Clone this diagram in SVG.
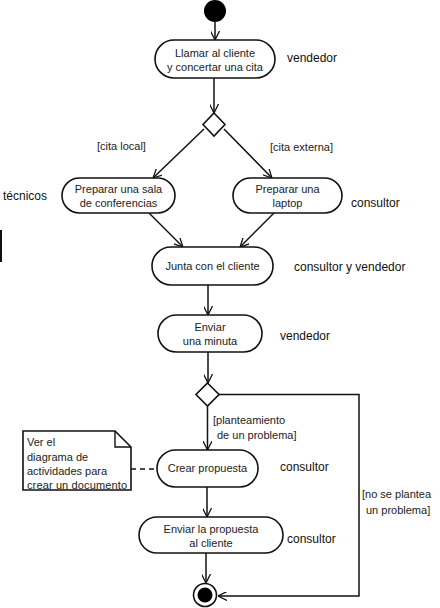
<svg xmlns="http://www.w3.org/2000/svg" width="440" height="608" viewBox="0 0 440 608">
<defs>
<marker id="arr" viewBox="0 0 10 10" refX="10" refY="5" markerWidth="9" markerHeight="9" orient="auto" markerUnits="userSpaceOnUse">
<path d="M0,0 L10,5 L0,10" fill="none" stroke="#111" stroke-width="1.4"/>
</marker>
<style>
.n{fill:#fff;stroke:#111;stroke-width:1.6}
.t{font-family:"Liberation Sans",Arial,sans-serif;font-size:11px;fill:#222;text-anchor:middle}
.l{font-family:"Liberation Sans",Arial,sans-serif;font-size:12px;fill:#111}
.g{font-family:"Liberation Sans",Arial,sans-serif;font-size:11px;fill:#222}
.c{fill:none;stroke:#111;stroke-width:1.5}
</style>
</defs>
<rect width="440" height="608" fill="#fff"/>
<line x1="1" y1="230" x2="1" y2="262" stroke="#111" stroke-width="2"/>
<g id="connectors">
<line class="c" x1="215" y1="22" x2="215" y2="40" marker-end="url(#arr)"/>
<line class="c" x1="214" y1="78" x2="214" y2="113" marker-end="url(#arr)"/>
<line class="c" x1="204" y1="129" x2="153" y2="178" marker-end="url(#arr)"/>
<line class="c" x1="224" y1="129" x2="272" y2="178" marker-end="url(#arr)"/>
<line class="c" x1="149" y1="213" x2="183" y2="247" marker-end="url(#arr)"/>
<line class="c" x1="274" y1="213" x2="240" y2="247" marker-end="url(#arr)"/>
<line class="c" x1="208" y1="285" x2="208" y2="315" marker-end="url(#arr)"/>
<line class="c" x1="208" y1="352" x2="208" y2="383" marker-end="url(#arr)"/>
<line class="c" x1="207.5" y1="406" x2="207.5" y2="450" marker-end="url(#arr)"/>
<polyline class="c" points="219,394.5 359,394.5 359,596 218,596" marker-end="url(#arr)"/>
<line class="c" x1="207" y1="487" x2="207" y2="517" marker-end="url(#arr)"/>
<line class="c" x1="206" y1="553" x2="206" y2="583" marker-end="url(#arr)"/>
<line x1="131" y1="469" x2="157" y2="469" stroke="#111" stroke-width="1.3" stroke-dasharray="5,4"/>
<text class="g" x="97" y="150">[cita local]</text>
<text class="g" x="270" y="151">[cita externa]</text>
<text class="g" x="213" y="424">[planteamiento</text>
<text class="g" x="217" y="439">de un problema]</text>
<text class="g" x="362" y="498">[no se plantea</text>
<text class="g" x="366" y="514">un problema]</text>
</g>
<g id="start"><circle cx="215" cy="11" r="11" fill="#000"/></g>
<g id="n1">
<rect class="n" x="155" y="40" width="120" height="38" rx="19"/>
<text class="t" x="215" y="57">Llamar al cliente</text>
<text class="t" x="215" y="71">y concertar una cita</text>
</g>
<text class="l" x="287" y="62">vendedor</text>
<g id="d1"><polygon class="n" points="214,113 225,124.5 214,136 203,124.5"/></g>
<g id="n2">
<rect class="n" x="62" y="178" width="113" height="35" rx="17.5"/>
<text class="t" x="118.5" y="193">Preparar una sala</text>
<text class="t" x="118.5" y="207">de conferencias</text>
</g>
<text class="l" x="3" y="200">técnicos</text>
<g id="n3">
<rect class="n" x="233" y="178" width="109" height="35" rx="17.5"/>
<text class="t" x="287.5" y="193">Preparar una</text>
<text class="t" x="287.5" y="207">laptop</text>
</g>
<text class="l" x="351" y="207">consultor</text>
<g id="n4">
<rect class="n" x="152" y="247" width="121" height="38" rx="19"/>
<text class="t" x="212.5" y="270">Junta con el cliente</text>
</g>
<text class="l" x="294" y="271">consultor y vendedor</text>
<g id="n5">
<rect class="n" x="158" y="315" width="104" height="37" rx="18.5"/>
<text class="t" x="210" y="331">Enviar</text>
<text class="t" x="210" y="345">una minuta</text>
</g>
<text class="l" x="280" y="340">vendedor</text>
<g id="d2"><polygon class="n" points="207.5,383 219,394.5 207.5,406 196,394.5"/></g>
<g id="note">
<path class="n" d="M23,431 L115,431 L131,447 L131,490 L23,490 Z" stroke-width="1.4"/>
<path d="M115,431 L115,447 L131,447" fill="none" stroke="#111" stroke-width="1.4"/>
<text class="g" x="27" y="446">Ver el</text>
<text class="g" x="27" y="461">diagrama de</text>
<text class="g" x="27" y="475">actividades para</text>
<text class="g" x="27" y="489" textLength="100">crear un documento</text>
</g>
<g id="n6">
<rect class="n" x="157" y="450" width="101" height="37" rx="18.5"/>
<text class="t" x="207.5" y="472">Crear propuesta</text>
</g>
<text class="l" x="280" y="471">consultor</text>
<g id="n7">
<rect class="n" x="139" y="517" width="144" height="36" rx="18"/>
<text class="t" x="211" y="533">Enviar la propuesta</text>
<text class="t" x="211" y="547">al cliente</text>
</g>
<text class="l" x="287" y="543">consultor</text>
<g id="end">
<circle cx="205" cy="595" r="11.5" fill="#fff" stroke="#111" stroke-width="1.6"/>
<circle cx="205" cy="595" r="7.5" fill="#000"/>
</g>
</svg>
